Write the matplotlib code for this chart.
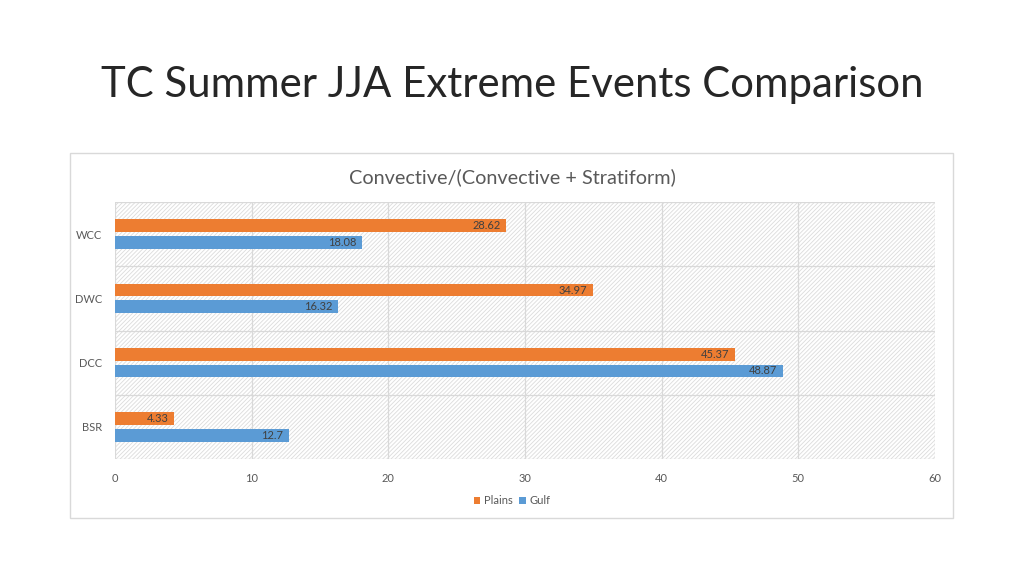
import numpy as np
import matplotlib
matplotlib.use("Agg")
import matplotlib.pyplot as plt
from matplotlib.patches import Rectangle

categories = ["BSR", "DCC", "DWC", "WCC"]
plains = [4.33, 45.37, 34.97, 28.62]
gulf = [12.7, 48.87, 16.32, 18.08]
xticks = [0, 10, 20, 30, 40, 50, 60]

plt.rcParams['font.family'] = ['Lato', 'DejaVu Sans']
plt.rcParams['hatch.linewidth'] = 0.6
plt.rcParams['hatch.color'] = '#dcdcdc'

fig = plt.figure(figsize=(10.24, 5.76), dpi=100)

# chart frame
fig.patches.append(Rectangle((70/1024, 1-518/576), 883/1024, 365/576,
                             transform=fig.transFigure, fill=False,
                             edgecolor='#d9d9d9', linewidth=1))

fig.text(0.5, 1-85/576, "TC Summer JJA Extreme Events Comparison",
         ha='center', va='center', fontsize=30.2, color='#262626')
fig.text(0.5, 1-177/576, "Convective/(Convective + Stratiform)",
         ha='center', va='center', fontsize=14.3, color='#595959')

ax = fig.add_axes([115/1024, 1-459/576, 820/1024, 257/576])
ax.set_xlim(0, 60)
ax.set_ylim(-0.5, 3.5)

# hatched background
ax.add_patch(Rectangle((0, -0.5), 60, 4, facecolor='white', hatch='////////',
                       edgecolor='#dcdcdc', linewidth=0, zorder=0))

y = np.arange(len(categories))
h = 0.2
off = 0.13
b1 = ax.barh(y + off, plains, height=h, color='#ED7D31', label='Plains', zorder=3)
b2 = ax.barh(y - off, gulf, height=h, color='#5B9BD5', label='Gulf', zorder=3)

for bars, vals in ((b1, plains), (b2, gulf)):
    for bar, v in zip(bars, vals):
        ax.text(v - 0.4, bar.get_y() + bar.get_height()/2, f"{v:g}",
                ha='right', va='center', fontsize=8, color='#404040', zorder=4)

ax.set_yticks(y)
ax.set_yticklabels(categories)
ax.set_xticks(xticks)
for yy in [-0.5, 0.5, 1.5, 2.5, 3.5]:
    ax.axhline(yy, color='#d9d9d9', linewidth=0.9, zorder=1)
for xx in xticks:
    ax.axvline(xx, color='#d9d9d9', linewidth=0.9, zorder=1)

for s in ax.spines.values():
    s.set_visible(False)
ax.tick_params(axis='both', length=0, labelsize=8, labelcolor='#595959')
ax.tick_params(axis='x', pad=10)
ax.tick_params(axis='y', pad=9)

handles = [b1, b2]
fig.legend(handles, ['Plains', 'Gulf'], loc='center', bbox_to_anchor=(0.5, 1-501/576),
           ncol=2, frameon=False, fontsize=8, handlelength=0.6, handleheight=0.6,
           handletextpad=0.3, columnspacing=0.6, labelcolor='#595959')

fig.savefig("out.png", dpi=100)
